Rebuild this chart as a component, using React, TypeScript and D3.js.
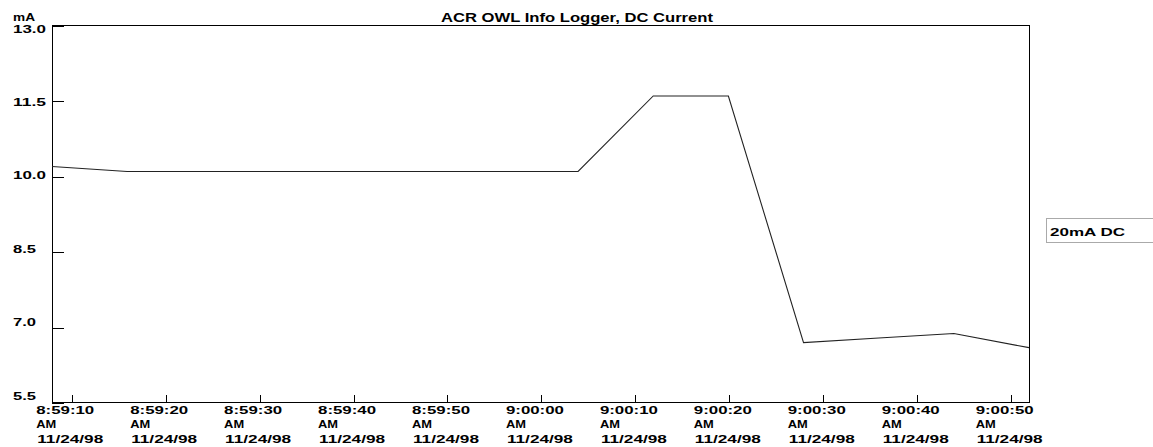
import * as d3 from "d3";
import { useRef, useEffect } from "react";

// logger samples, roughly every 8 s
const sampleTimes = [
  "1998-11-24 08:59:07.900", "1998-11-24 08:59:15.900", "1998-11-24 08:59:23.900",
  "1998-11-24 08:59:31.900", "1998-11-24 08:59:39.900", "1998-11-24 08:59:47.900",
  "1998-11-24 08:59:55.900", "1998-11-24 09:00:03.900", "1998-11-24 09:00:11.900",
  "1998-11-24 09:00:19.900", "1998-11-24 09:00:27.900", "1998-11-24 09:00:35.900",
  "1998-11-24 09:00:43.900", "1998-11-24 09:00:51.900",
];
const currentValues = [10.2, 10.1, 10.1, 10.1, 10.1, 10.1, 10.1, 10.1, 11.6, 11.6, 6.7, 6.79, 6.88, 6.6];

const tickTimes = [
  "1998-11-24 08:59:10", "1998-11-24 08:59:20", "1998-11-24 08:59:30",
  "1998-11-24 08:59:40", "1998-11-24 08:59:50", "1998-11-24 09:00:00",
  "1998-11-24 09:00:10", "1998-11-24 09:00:20", "1998-11-24 09:00:30",
  "1998-11-24 09:00:40", "1998-11-24 09:00:50",
];
const yTicks = [13.0, 11.5, 10.0, 8.5, 7.0, 5.5];

const title = "ACR OWL Info Logger, DC Current";
const yUnit = "mA";
const seriesName = "20mA DC";

const W = 1153;
const H = 447;
const FONT = "'Liberation Sans', Arial, sans-serif";

const App = () => {
  const ref = useRef<SVGSVGElement>(null);

  useEffect(() => {
    const svg = d3.select(ref.current);
    svg.selectAll("*").remove();

    const left = 52, right = 1029, top = 25, bottom = 402;

    const parseS = d3.timeParse("%Y-%m-%d %H:%M:%S.%L");
    const parseT = d3.timeParse("%Y-%m-%d %H:%M:%S");
    const data = sampleTimes.map((t, i) => ({ t: parseS(t) as Date, v: currentValues[i] }));
    const ticks = tickTimes.map(t => parseT(t) as Date);

    const x = d3.scaleTime()
      .domain(d3.extent(data, d => d.t) as [Date, Date])
      .range([left, right]);
    const y = d3.scaleLinear().domain([5.5, 13]).range([403, 25.5]);
    // labels are spread a little tighter than the ticks
    const yLab = d3.scaleLinear().domain([5.5, 13]).range([399.5, 32.5]);

    svg.append("rect").attr("width", W).attr("height", H).attr("fill", "#fff");

    // frame
    svg.append("path")
      .attr("d", `M${left},${top}H${right}V${bottom}H${left}Z`)
      .attr("fill", "none")
      .attr("stroke", "#000")
      .attr("stroke-width", 1)
      .attr("shape-rendering", "crispEdges");

    // y ticks (inward)
    svg.selectAll("line.yt")
      .data(yTicks)
      .enter()
      .append("line")
      .attr("class", "yt")
      .attr("x1", left).attr("x2", left + 12)
      .attr("y1", d => Math.round(y(d)) + 0.5).attr("y2", d => Math.round(y(d)) + 0.5)
      .attr("stroke", "#000");

    const label = (sel: any, size: number) =>
      sel.attr("font-family", FONT).attr("font-weight", "bold").attr("font-size", size).attr("fill", "#000");

    svg.selectAll("text.yl")
      .data(yTicks)
      .enter()
      .append("text")
      .attr("class", "yl")
      .attr("x", 13)
      .attr("y", d => yLab(d))
      .call(label, 11)
      .attr("textLength", d => (d >= 10 ? 33 : 23))
      .attr("lengthAdjust", "spacingAndGlyphs")
      .text(d => d.toFixed(1));

    svg.append("text")
      .attr("x", 13).attr("y", 21)
      .call(label, 11)
      .attr("textLength", 22)
      .attr("lengthAdjust", "spacingAndGlyphs")
      .text(yUnit);

    // x ticks (inward)
    svg.selectAll("line.xt")
      .data(ticks)
      .enter()
      .append("line")
      .attr("class", "xt")
      .attr("x1", d => Math.round(x(d)) + 0.5).attr("x2", d => Math.round(x(d)) + 0.5)
      .attr("y1", bottom).attr("y2", bottom - 7)
      .attr("stroke", "#000");

    const fmtTime = d3.timeFormat("%-I:%M:%S");
    const fmtAmPm = d3.timeFormat("%p");
    const fmtDate = d3.timeFormat("%m/%d/%y");
    const xl = svg.selectAll("g.xl")
      .data(ticks)
      .enter()
      .append("g")
      .attr("class", "xl")
      .attr("transform", d => `translate(${x(d) - 35.5},0)`)
      .call(label, 11);
    xl.append("text").attr("y", 414).attr("textLength", 58).attr("lengthAdjust", "spacingAndGlyphs").text(d => fmtTime(d));
    xl.append("text").attr("y", 428).attr("textLength", 20).attr("lengthAdjust", "spacingAndGlyphs").text(d => fmtAmPm(d));
    xl.append("text").attr("x", 1).attr("y", 443).attr("textLength", 66).attr("lengthAdjust", "spacingAndGlyphs").text(d => fmtDate(d));

    // series
    const line = d3.line<{ t: Date; v: number }>()
      .x(d => x(d.t))
      .y(d => y(d.v));
    svg.append("path")
      .datum(data)
      .attr("d", line)
      .attr("fill", "none")
      .attr("stroke", "#222")
      .attr("stroke-width", 1.1);

    // title
    svg.append("text")
      .attr("x", 577).attr("y", 22)
      .attr("text-anchor", "middle")
      .call(label, 12)
      .attr("textLength", 272)
      .attr("lengthAdjust", "spacingAndGlyphs")
      .text(title);

    // legend
    svg.append("rect")
      .attr("x", 1046.5).attr("y", 218.5)
      .attr("width", 120).attr("height", 24)
      .attr("fill", "#fff")
      .attr("stroke", "#aaa");
    svg.append("text")
      .attr("x", 1050).attr("y", 236)
      .call(label, 11.5)
      .attr("textLength", 75)
      .attr("lengthAdjust", "spacingAndGlyphs")
      .text(seriesName);
  }, []);

  return (
    <svg ref={ref} width={W} height={H} style={{ position: "absolute", left: 0, top: 0 }}></svg>
  );
};

export default App;
